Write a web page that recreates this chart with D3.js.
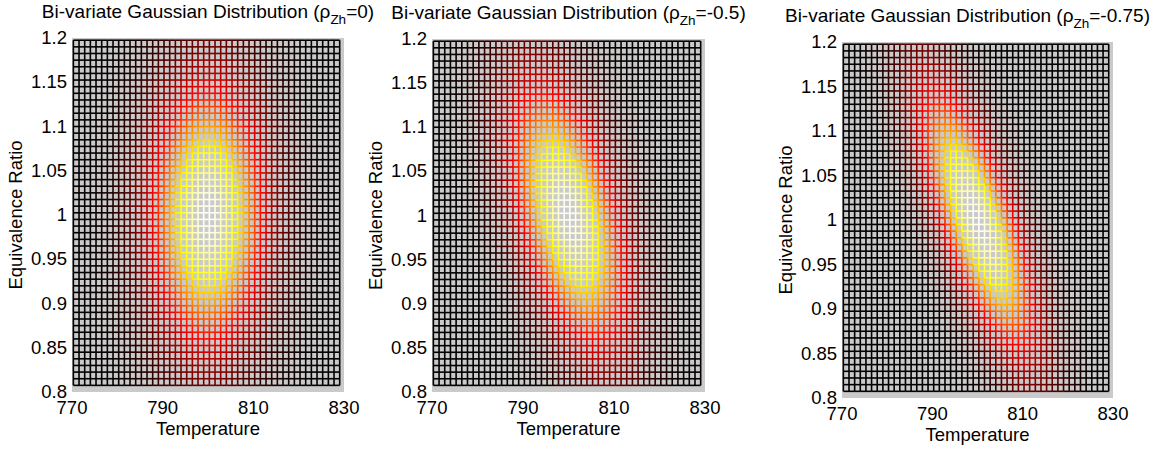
<!DOCTYPE html>
<html>
<head>
<meta charset="utf-8">
<script src="https://cdn.jsdelivr.net/npm/d3@7"></script>
<style>
  body { margin: 0; background: #fff; }
  text { font-family: "Liberation Sans", Arial, sans-serif; fill: #000; }
</style>
</head>
<body>
<div id="chart"></div>
<script>
// distribution parameters
var rhoValues = [0, -0.5, -0.75];
var rhoLabels = ["0", "-0.5", "-0.75"];
var meanTemp = 800, meanPhi = 1.0;
var sigmaTemp = 8.5, sigmaPhi = 0.1;

var xTicks = [770, 790, 810, 830];
var yTicks = [0.8, 0.85, 0.9, 0.95, 1, 1.05, 1.1, 1.15, 1.2];
var yTickLabels = ["0.8", "0.85", "0.9", "0.95", "1", "1.05", "1.1", "1.15", "1.2"];

// mesh nodes
var tempGrid = d3.range(770.3, 829.5, 1.25);
var phiGrid = d3.range(1.1975, 0.805, -0.0075);

var panels = [
    {left: 72, right: 344, top: 38, bottom: 392},
    {left: 432, right: 705, top: 39, bottom: 392},
    {left: 842, right: 1113, top: 42, bottom: 398}
];

var fs = "18.5px";

function hot(v) {
    var r = Math.min(1, v / 0.375);
    var g = Math.max(0, Math.min(1, (v - 0.375) / 0.375));
    var b = Math.max(0, Math.min(1, (v - 0.75) / 0.25));
    return d3.rgb(r * 255, g * 255, b * 255).toString();
}

function density(t, p, rho) {
    var zt = (t - meanTemp) / sigmaTemp;
    var zp = (p - meanPhi) / sigmaPhi;
    var q = (zt * zt - 2 * rho * zt * zp + zp * zp) / (1 - rho * rho);
    return Math.exp(-q / 2);
}

var svg = d3.select("#chart")
    .append("svg")
    .attr("width", 1152)
    .attr("height", 450);

panels.forEach(function(pan, k) {
    var rho = rhoValues[k];
    var x = d3.scaleLinear().domain([770, 830]).range([pan.left, pan.right]);
    var y = d3.scaleLinear().domain([0.8, 1.2]).range([pan.bottom, pan.top]);
    var g = svg.append("g");

    g.append("rect")
        .attr("x", pan.left)
        .attr("y", pan.top)
        .attr("width", pan.right - pan.left)
        .attr("height", pan.bottom - pan.top)
        .attr("fill", "#cacaca");

    var segs = [];
    phiGrid.forEach(function(p) {
        for (var i = 0; i < tempGrid.length - 1; i++) {
            var v = (density(tempGrid[i], p, rho) + density(tempGrid[i + 1], p, rho)) / 2;
            segs.push({x1: tempGrid[i], y1: p, x2: tempGrid[i + 1], y2: p, v: v});
        }
    });
    tempGrid.forEach(function(t) {
        for (var j = 0; j < phiGrid.length - 1; j++) {
            var v = (density(t, phiGrid[j], rho) + density(t, phiGrid[j + 1], rho)) / 2;
            segs.push({x1: t, y1: phiGrid[j], x2: t, y2: phiGrid[j + 1], v: v});
        }
    });
    // draw bright segments last
    segs.sort(function(a, b) { return a.v - b.v; });

    g.selectAll("line.mesh")
        .data(segs)
        .enter()
        .append("line")
        .attr("class", "mesh")
        .attr("x1", function(d) { return x(d.x1); })
        .attr("y1", function(d) { return y(d.y1); })
        .attr("x2", function(d) { return x(d.x2); })
        .attr("y2", function(d) { return y(d.y2); })
        .attr("stroke", function(d) { return hot(d.v); })
        .attr("stroke-width", 1.6);

    g.selectAll("text.ytick")
        .data(yTicks)
        .enter()
        .append("text")
        .attr("class", "ytick")
        .attr("x", pan.left - 5)
        .attr("y", function(d) { return y(d); })
        .attr("dy", "0.33em")
        .attr("text-anchor", "end")
        .style("font-size", fs)
        .text(function(d, i) { return yTickLabels[i]; });

    g.selectAll("text.xtick")
        .data(xTicks)
        .enter()
        .append("text")
        .attr("class", "xtick")
        .attr("x", function(d) { return x(d); })
        .attr("y", pan.bottom + 22)
        .attr("text-anchor", "middle")
        .style("font-size", fs)
        .text(function(d) { return d; });

    g.append("text")
        .attr("x", (pan.left + pan.right) / 2)
        .attr("y", pan.bottom + 43)
        .attr("text-anchor", "middle")
        .style("font-size", fs)
        .text("Temperature");

    g.append("text")
        .attr("transform", "translate(" + (pan.left - 50) + "," + ((pan.top + pan.bottom) / 2) + ") rotate(-90)")
        .attr("text-anchor", "middle")
        .style("font-size", fs)
        .text("Equivalence Ratio");

    var title = g.append("text")
        .attr("x", 0)
        .attr("y", pan.top - 20)
        .style("font-size", "19px");
    title.append("tspan").text("Bi-variate Gaussian Distribution (\u03c1");
    title.append("tspan").attr("dy", 6).style("font-size", "13.5px").text("Zh");
    title.append("tspan").attr("dy", -6).text("=" + rhoLabels[k] + ")");
    // centre the title over the axes
    var w = title.node().getBBox().width;
    var cx = Math.min((pan.left + pan.right) / 2, 1150 - w / 2);
    title.attr("x", cx - w / 2);
});
</script>
</body>
</html>
